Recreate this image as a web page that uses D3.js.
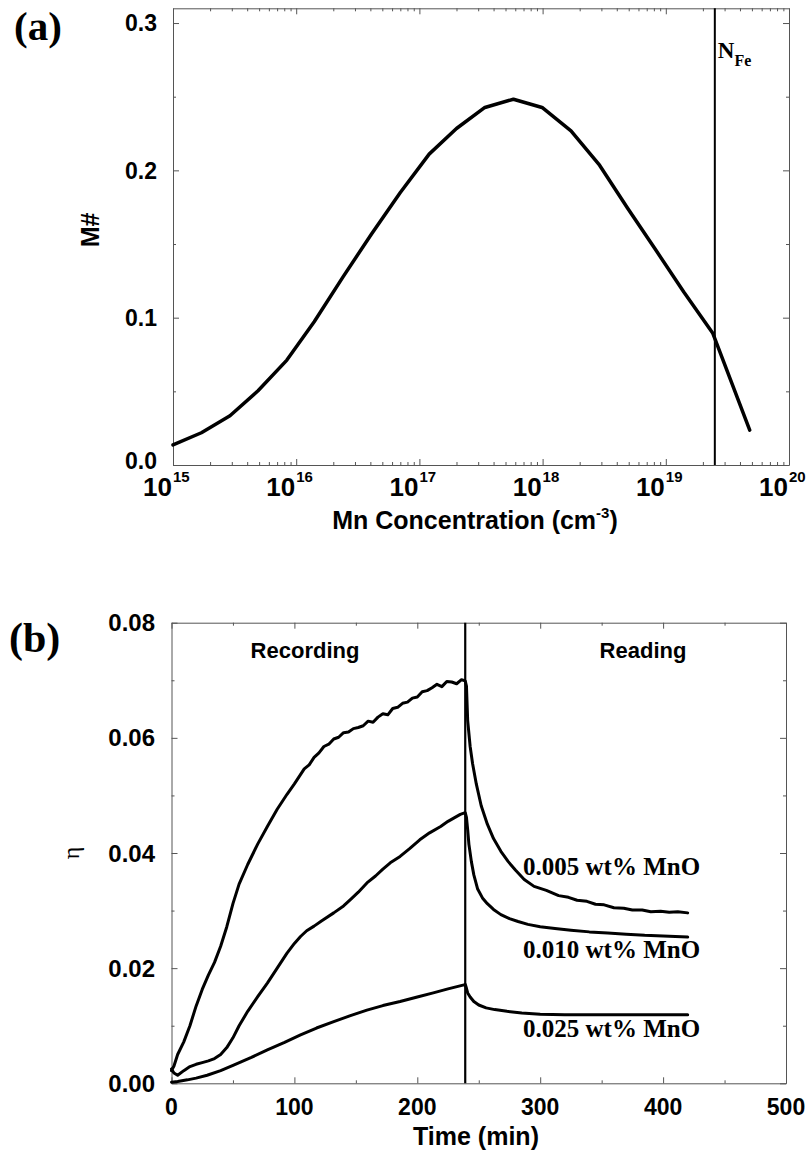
<!DOCTYPE html>
<html>
<head>
<meta charset="utf-8">
<script src="https://cdn.jsdelivr.net/npm/d3@7"></script>
<style>
  body { margin: 0; background: #fff; }
  svg { display: block; }
</style>
</head>
<body>
<svg id="fig" width="808" height="1155"></svg>
<script>
// ---------- Panel (a): M# versus Mn concentration ----------
const mnConc = [1.0e15, 1.7e15, 2.9e15, 4.9e15, 8.4e15, 1.4e16, 2.4e16, 4.1e16, 7.0e16,
                1.2e17, 2.0e17, 3.4e17, 5.8e17, 9.9e17, 1.7e18, 2.9e18, 4.9e18, 8.3e18,
                1.4e19, 2.4e19, 4.8e19];
const mNumber = [0.0136, 0.0219, 0.0334, 0.0504, 0.0712, 0.0972, 0.1277, 0.1570, 0.1850,
                 0.2110, 0.2284, 0.2427, 0.2483, 0.2427, 0.2268, 0.2035, 0.1743, 0.1459,
                 0.1174, 0.0896, 0.0237];
const nFe = 2.5e19;
const aTicksY = [0, 0.1, 0.2, 0.3];
const aTicksYMinor = [0.05, 0.15, 0.25];
const aExponents = [15, 16, 17, 18, 19, 20];

// ---------- Panel (b): diffraction efficiency during recording and reading ----------
const t005 = [0, 2, 5, 10, 15, 20, 25, 30, 35, 40, 45, 50, 55, 62, 70, 78, 86, 94, 100,
              104, 108, 112, 116, 120, 124, 128, 132, 136, 140, 144, 148, 152, 156, 160,
              164, 168, 172, 176, 180, 184, 188, 192, 196, 200, 204, 208, 212, 216, 220,
              224, 228, 232, 236, 239,
              240, 241, 243, 245, 248, 252, 257, 262, 268, 274, 280, 287, 295, 305, 315,
              323, 330, 338, 345, 352, 360, 368, 375, 383, 390, 398, 405, 412, 420];
const eta005 = [0.0022, 0.0030, 0.0050, 0.0072, 0.0100, 0.0134, 0.0163, 0.0188, 0.0210,
                0.0238, 0.0272, 0.0312, 0.0346, 0.0380, 0.0415, 0.0446, 0.0476, 0.0502,
                0.0520, 0.0533, 0.0546, 0.0553, 0.0566, 0.0574, 0.0585, 0.0589, 0.0598,
                0.0601, 0.0609, 0.0610, 0.0616, 0.0618, 0.0621, 0.0629, 0.0627, 0.0636,
                0.0642, 0.0640, 0.0651, 0.0653, 0.0660, 0.0662, 0.0669, 0.0671, 0.0680,
                0.0682, 0.0687, 0.0693, 0.0689, 0.0698, 0.0697, 0.0694, 0.0701, 0.0699,
                0.0690, 0.0630, 0.0585, 0.0555, 0.0520, 0.0482, 0.0450, 0.0425, 0.0403,
                0.0385, 0.0370, 0.0354, 0.0342, 0.0335, 0.0326, 0.0323, 0.0318, 0.0316,
                0.0311, 0.0310, 0.0305, 0.0304, 0.0301, 0.0301, 0.0298, 0.0299, 0.0297,
                0.0298, 0.0296];

const t010 = [0, 2, 5, 10, 15, 20, 25, 30, 35, 40, 45, 50, 55, 62, 70, 78, 86, 94, 100,
              105, 110, 116, 122, 132, 140, 146, 152, 159, 166, 172, 178, 186, 194, 202,
              210, 219, 225, 230, 235, 239,
              240, 241, 242, 244, 246, 249, 253, 257, 262, 268, 275, 282, 290, 300, 312,
              325, 340, 355, 370, 385, 400, 420];
const eta010 = [0.0025, 0.0018, 0.0014, 0.0022, 0.0029, 0.0033, 0.0036, 0.0039, 0.0043,
                0.0050, 0.0062, 0.0079, 0.0100, 0.0125, 0.0150, 0.0174, 0.0200, 0.0226,
                0.0243, 0.0255, 0.0265, 0.0273, 0.0282, 0.0296, 0.0308, 0.0320, 0.0332,
                0.0348, 0.0360, 0.0372, 0.0383, 0.0394, 0.0408, 0.0423, 0.0435, 0.0446,
                0.0455, 0.0461, 0.0467, 0.0470,
                0.0462, 0.0440, 0.0415, 0.0385, 0.0362, 0.0338, 0.0322, 0.0312, 0.0302,
                0.0293, 0.0286, 0.0281, 0.0276, 0.0272, 0.0269, 0.0266, 0.0263, 0.0261,
                0.0259, 0.0257, 0.0256, 0.0254];

const t025 = [0, 5, 13, 20, 29, 40, 51, 65, 78, 92, 105, 118, 132, 145, 159, 172, 186,
              200, 213, 225, 238,
              239, 240, 241, 243, 246, 250, 256, 263, 273, 285, 300, 320, 349, 380, 420];
const eta025 = [0.0002, 0.0003, 0.0006, 0.0009, 0.0014, 0.0022, 0.0032, 0.0045, 0.0058,
                0.0071, 0.0084, 0.0096, 0.0107, 0.0117, 0.0127, 0.0135, 0.0142, 0.0150,
                0.0157, 0.0164, 0.0171,
                0.0172, 0.0165, 0.0157, 0.0150, 0.0142, 0.0136, 0.0131, 0.0128, 0.0125,
                0.0122, 0.0120, 0.0119, 0.0119, 0.0119, 0.0119];

const switchTime = 239;
const bTicksX = [0, 100, 200, 300, 400, 500];
const bTicksXMinor = [50, 150, 250, 350, 450];
const bTicksY = [0, 0.02, 0.04, 0.06, 0.08];
const bTicksYMinor = [0.01, 0.03, 0.05, 0.07];
const seriesLabels = ["0.005 wt% MnO", "0.010 wt% MnO", "0.025 wt% MnO"];
const phaseLabels = ["Recording", "Reading"];

// ---------- shared styling ----------
const SANS = "'Liberation Sans', Arial, Helvetica, sans-serif";
const SERIF = "'Liberation Serif', 'Times New Roman', Times, serif";
const FRAME = "#555";

const svg = d3.select("#fig");

// Draws a boxed frame with inward ticks on all four sides.
function drawFrame(g, x, y, xMajor, xMinor, yMajor, yMinor) {
  const [x0, x1] = x.range();
  const [y0, y1] = y.range();
  const specs = [
    [d3.axisBottom(x), `translate(0,${y0})`, xMajor, xMinor],
    [d3.axisTop(x), `translate(0,${y1})`, xMajor, xMinor],
    [d3.axisLeft(y), `translate(${x0},0)`, yMajor, yMinor],
    [d3.axisRight(y), `translate(${x1},0)`, yMajor, yMinor]
  ];
  specs.forEach(([axisFn, tr, major, minor]) => {
    const a = g.append("g").attr("transform", tr)
      .call(axisFn.tickValues(major).tickSizeInner(-6).tickSizeOuter(0).tickFormat(""));
    a.select(".domain").attr("stroke", FRAME).attr("stroke-width", 1);
    a.selectAll(".tick line").attr("stroke", FRAME).attr("stroke-width", 1);
    const m = g.append("g").attr("transform", tr)
      .call(axisFn.tickValues(minor).tickSizeInner(-3).tickSizeOuter(0).tickFormat(""));
    m.select(".domain").remove();
    m.selectAll(".tick line").attr("stroke", FRAME).attr("stroke-width", 1);
  });
}

// ================= Panel (a) =================
const ax = d3.scaleLog().domain([1e15, 1e20]).range([173, 789]);
const ay = d3.scaleLinear().domain([0, 0.31]).range([465, 8.3]);
const gA = svg.append("g");

const aMinorX = [];
for (let e = 15; e < 20; e++) for (let k = 2; k <= 9; k++) aMinorX.push(k * Math.pow(10, e));
drawFrame(gA, ax, ay, aExponents.map(e => Math.pow(10, e)), aMinorX, aTicksY, aTicksYMinor);

// y tick labels (the zero label sits a little high, clear of the x labels)
gA.selectAll("text.ylab").data(aTicksY).join("text")
  .attr("x", 157).attr("y", d => ay(d) - (d === 0 ? 4 : 0)).attr("dy", "0.36em")
  .attr("text-anchor", "end")
  .attr("font-family", SANS).attr("font-weight", "bold").attr("font-size", 23)
  .text(d => d3.format(".1f")(d));

// x tick labels: 10 with a raised exponent
const xl = gA.selectAll("g.xlab").data(aExponents).join("g")
  .attr("transform", e => `translate(${ax(Math.pow(10, e))},0)`);
xl.append("text").attr("x", -1).attr("y", 496).attr("text-anchor", "end")
  .attr("font-family", SANS).attr("font-weight", "bold").attr("font-size", 26)
  .text("10");
xl.append("text").attr("x", 0).attr("y", 482).attr("text-anchor", "start")
  .attr("font-family", SANS).attr("font-weight", "bold").attr("font-size", 15)
  .text(e => e);

// axis titles
const aTitle = gA.append("text").attr("x", 475).attr("y", 529).attr("text-anchor", "middle")
  .attr("font-family", SANS).attr("font-weight", "bold").attr("font-size", 25);
aTitle.append("tspan").text("Mn Concentration (cm");
aTitle.append("tspan").attr("font-size", 15).attr("dy", -11).text("-3");
aTitle.append("tspan").attr("dy", 11).text(")");

gA.append("text").attr("transform", "translate(99,230) rotate(-90)")
  .attr("text-anchor", "middle")
  .attr("font-family", SANS).attr("font-weight", "bold").attr("font-size", 25)
  .text("M#");

// N_Fe marker
gA.append("line")
  .attr("x1", ax(nFe)).attr("x2", ax(nFe)).attr("y1", ay.range()[1]).attr("y2", ay.range()[0])
  .attr("stroke", "#000").attr("stroke-width", 2);
const nLab = gA.append("text").attr("x", ax(nFe) + 3).attr("y", 58)
  .attr("font-family", SERIF).attr("font-weight", "bold").attr("font-size", 23);
nLab.append("tspan").text("N");
nLab.append("tspan").attr("font-size", 16).attr("dy", 8).text("Fe");

// curve
gA.append("path")
  .datum(mnConc.map((c, i) => [c, mNumber[i]]))
  .attr("fill", "none").attr("stroke", "#000").attr("stroke-width", 3.5)
  .attr("stroke-linejoin", "round").attr("stroke-linecap", "round")
  .attr("d", d3.line().x(d => ax(d[0])).y(d => ay(d[1])));

// panel letter
gA.append("text").attr("x", 14).attr("y", 40)
  .attr("font-family", SERIF).attr("font-weight", "bold").attr("font-size", 41)
  .text("(a)");

// ================= Panel (b) =================
const bx = d3.scaleLinear().domain([0, 500]).range([171.5, 786]);
const by = d3.scaleLinear().domain([0, 0.08]).range([1083.3, 622.7]);
const gB = svg.append("g");

drawFrame(gB, bx, by, bTicksX, bTicksXMinor, bTicksY, bTicksYMinor);

gB.selectAll("text.ylab").data(bTicksY).join("text")
  .attr("x", 155).attr("y", d => by(d)).attr("dy", "0.36em")
  .attr("text-anchor", "end")
  .attr("font-family", SANS).attr("font-weight", "bold").attr("font-size", 24)
  .text(d => d3.format(".2f")(d));

gB.selectAll("text.xlab").data(bTicksX).join("text")
  .attr("x", d => bx(d)).attr("y", 1115).attr("text-anchor", "middle")
  .attr("font-family", SANS).attr("font-weight", "bold").attr("font-size", 23)
  .text(d => d);

gB.append("text").attr("x", 476).attr("y", 1145).attr("text-anchor", "middle")
  .attr("font-family", SANS).attr("font-weight", "bold").attr("font-size", 25)
  .text("Time (min)");

gB.append("text").attr("transform", "translate(79,853) rotate(-90)")
  .attr("text-anchor", "middle")
  .attr("font-family", SERIF).attr("font-size", 24)
  .text("\u03B7");

// recording / reading boundary
gB.append("line")
  .attr("x1", bx(switchTime)).attr("x2", bx(switchTime))
  .attr("y1", by.range()[1]).attr("y2", by.range()[0])
  .attr("stroke", "#000").attr("stroke-width", 2.2);

gB.append("text").attr("x", 305).attr("y", 658).attr("text-anchor", "middle")
  .attr("font-family", SANS).attr("font-weight", "bold").attr("font-size", 22)
  .text(phaseLabels[0]);
gB.append("text").attr("x", 643).attr("y", 658).attr("text-anchor", "middle")
  .attr("font-family", SANS).attr("font-weight", "bold").attr("font-size", 22)
  .text(phaseLabels[1]);

const bLine = d3.line().x(d => bx(d[0])).y(d => by(d[1]));
[[t005, eta005], [t010, eta010], [t025, eta025]].forEach(([t, v]) => {
  gB.append("path")
    .datum(t.map((ti, i) => [ti, v[i]]))
    .attr("fill", "none").attr("stroke", "#000").attr("stroke-width", 3)
    .attr("stroke-linejoin", "round").attr("stroke-linecap", "round")
    .attr("d", bLine);
});

const labelBase = [875, 958, 1037];
seriesLabels.forEach((s, i) => {
  gB.append("text").attr("x", 523).attr("y", labelBase[i])
    .attr("font-family", SERIF).attr("font-weight", "bold").attr("font-size", 25)
    .text(s);
});

gB.append("text").attr("x", 9).attr("y", 652)
  .attr("font-family", SERIF).attr("font-weight", "bold").attr("font-size", 42)
  .text("(b)");
</script>
</body>
</html>
